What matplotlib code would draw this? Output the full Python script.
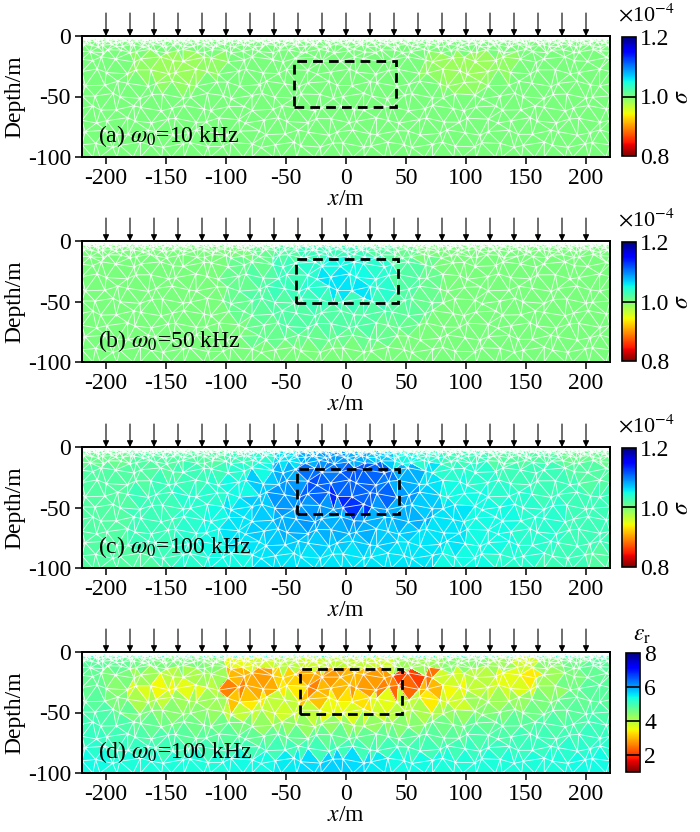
import numpy as np
import matplotlib
matplotlib.use("Agg")
import matplotlib.pyplot as plt
import matplotlib.tri as mtri
from matplotlib.patches import Rectangle

plt.rcParams["font.family"] = ["Liberation Serif", "DejaVu Serif"]
plt.rcParams["mathtext.fontset"] = "stix"
plt.rcParams["axes.unicode_minus"] = False

# ── data ────────────────────────────────────────────────────────────────────
# cell grid on which the inverted values were read (20 m columns, depth rows)
x_edges = np.arange(-220, 221, 20)
depth_edges = [0, -4, -15, -25, -35, -45, -55, -65, -75, -85, -100]

# sigma (x1e-4), panel (a) omega0 = 10 kHz
sigma_a = [
    [1.00] * 22,
    [1.00] * 22,
    [1.00, 1.00, 0.99, 0.985, 0.985, 0.99, 1.00, 1.00, 1.00, 1.00, 1.00,
     1.00, 1.00, 1.00, 0.99, 0.985, 0.985, 0.99, 1.00, 1.00, 1.00, 1.00],
    [1.00, 1.00, 0.99, 0.985, 0.985, 0.99, 1.00, 1.00, 1.00, 1.00, 1.00,
     1.00, 1.00, 1.00, 0.99, 0.985, 0.985, 0.99, 1.00, 1.00, 1.00, 1.00],
    [1.00, 1.00, 1.00, 0.99, 0.99, 1.00, 1.00, 1.00, 1.00, 1.00, 1.00,
     1.00, 1.00, 1.00, 1.00, 0.99, 0.99, 1.00, 1.00, 1.00, 1.00, 1.00],
    [1.00] * 22,
    [1.00] * 22,
    [1.00] * 22,
    [1.00] * 22,
    [1.00] * 22,
]

# panel (b) omega0 = 50 kHz
sigma_b = [
    [1.00, 1.00, 1.00, 1.00, 1.00, 1.00, 1.00, 1.00, 0.99, 0.98, 0.975,
     0.975, 0.98, 0.99, 1.00, 1.00, 1.00, 1.00, 1.00, 1.00, 1.00, 1.00],
    [1.00, 1.00, 1.00, 1.00, 1.00, 1.00, 1.00, 1.01, 1.02, 1.03, 1.03,
     1.03, 1.02, 1.01, 1.00, 1.00, 1.00, 1.00, 1.00, 1.00, 1.00, 1.00],
    [1.00, 1.00, 1.00, 1.00, 1.00, 1.00, 1.01, 1.01, 1.03, 1.04, 1.05,
     1.05, 1.04, 1.02, 1.01, 1.00, 1.00, 1.00, 1.00, 1.00, 1.00, 1.00],
    [1.00, 1.00, 1.00, 1.00, 1.00, 1.00, 1.01, 1.02, 1.03, 1.04, 1.06,
     1.05, 1.04, 1.02, 1.01, 1.00, 1.00, 1.00, 1.00, 1.00, 1.00, 1.00],
    [1.00, 1.00, 1.00, 1.00, 1.00, 1.00, 1.01, 1.02, 1.03, 1.04, 1.06,
     1.06, 1.04, 1.02, 1.01, 1.00, 1.00, 1.00, 1.00, 1.00, 1.00, 1.00],
    [1.00, 1.00, 1.00, 1.00, 1.00, 1.00, 1.01, 1.02, 1.02, 1.03, 1.03,
     1.03, 1.03, 1.02, 1.01, 1.00, 1.00, 1.00, 1.00, 1.00, 1.00, 1.00],
    [1.00, 1.00, 1.00, 1.00, 1.00, 1.00, 1.01, 1.015, 1.02, 1.02, 1.02,
     1.02, 1.02, 1.015, 1.01, 1.00, 1.00, 1.00, 1.00, 1.00, 1.00, 1.00],
    [1.00, 1.00, 1.00, 1.00, 1.00, 1.00, 1.00, 1.01, 1.02, 1.02, 1.02,
     1.02, 1.01, 1.01, 1.00, 1.00, 1.00, 1.00, 1.00, 1.00, 1.00, 1.00],
    [1.00, 1.00, 1.00, 1.00, 1.00, 1.00, 1.00, 1.01, 1.01, 1.01, 1.01,
     1.01, 1.01, 1.00, 1.00, 1.00, 1.00, 1.00, 1.00, 1.00, 1.00, 1.00],
    [1.00] * 22,
]

# panel (c) omega0 = 100 kHz
sigma_c = [
    [1.01, 1.01, 1.01, 1.01, 1.01, 1.01, 1.02, 1.03, 1.00, 0.97, 0.96,
     0.96, 0.97, 1.00, 1.02, 1.02, 1.02, 1.02, 1.01, 1.01, 1.01, 1.01],
    [1.01, 1.01, 1.02, 1.02, 1.02, 1.02, 1.03, 1.04, 1.06, 1.08, 1.09,
     1.08, 1.07, 1.05, 1.04, 1.03, 1.03, 1.02, 1.02, 1.02, 1.01, 1.01],
    [1.02, 1.02, 1.02, 1.02, 1.03, 1.03, 1.04, 1.05, 1.08, 1.105, 1.10,
     1.115, 1.11, 1.08, 1.06, 1.04, 1.04, 1.03, 1.03, 1.03, 1.02, 1.02],
    [1.02, 1.02, 1.02, 1.03, 1.03, 1.04, 1.05, 1.07, 1.09, 1.12, 1.11,
     1.11, 1.10, 1.08, 1.06, 1.05, 1.04, 1.04, 1.03, 1.03, 1.03, 1.02],
    [1.02, 1.02, 1.03, 1.03, 1.04, 1.04, 1.05, 1.07, 1.09, 1.11, 1.135,
     1.11, 1.11, 1.09, 1.07, 1.05, 1.05, 1.04, 1.04, 1.03, 1.03, 1.03],
    [1.02, 1.02, 1.03, 1.03, 1.04, 1.05, 1.06, 1.07, 1.09, 1.09, 1.09,
     1.13, 1.09, 1.08, 1.07, 1.06, 1.05, 1.05, 1.04, 1.04, 1.03, 1.03],
    [1.02, 1.02, 1.03, 1.03, 1.04, 1.05, 1.06, 1.07, 1.08, 1.09, 1.08,
     1.09, 1.08, 1.08, 1.08, 1.06, 1.05, 1.05, 1.04, 1.04, 1.03, 1.03],
    [1.02, 1.02, 1.03, 1.03, 1.04, 1.05, 1.06, 1.07, 1.08, 1.08, 1.08,
     1.08, 1.07, 1.07, 1.06, 1.06, 1.05, 1.05, 1.04, 1.04, 1.03, 1.03],
    [1.02, 1.02, 1.03, 1.03, 1.04, 1.05, 1.06, 1.06, 1.07, 1.07, 1.07,
     1.07, 1.07, 1.06, 1.06, 1.06, 1.05, 1.05, 1.04, 1.04, 1.03, 1.03],
    [1.02, 1.02, 1.02, 1.03, 1.04, 1.05, 1.05, 1.06, 1.06, 1.06, 1.06,
     1.06, 1.06, 1.06, 1.06, 1.05, 1.05, 1.04, 1.04, 1.03, 1.03, 1.02],
]

# relative permittivity, panel (d) omega0 = 100 kHz
eps_d = [
    [5.1] * 22,
    [4.8, 4.7, 4.6, 4.5, 4.5, 4.4, 3.6, 3.8, 4.0, 3.8, 3.9,
     3.9, 3.8, 4.2, 4.2, 4.4, 4.4, 4.2, 3.8, 4.4, 4.6, 4.8],
    [4.7, 4.5, 4.2, 4.0, 4.1, 4.2, 3.0, 2.8, 3.2, 2.9, 2.8,
     3.0, 2.8, 2.1, 2.5, 3.8, 4.0, 3.6, 3.4, 4.2, 4.5, 4.7],
    [4.7, 4.4, 3.7, 3.5, 3.6, 4.0, 2.6, 2.9, 3.4, 2.6, 3.0,
     2.8, 2.6, 2.4, 3.0, 3.5, 3.9, 3.8, 3.7, 4.3, 4.6, 4.8],
    [4.8, 4.5, 4.1, 3.9, 4.2, 4.2, 3.1, 3.4, 3.9, 3.1, 3.5,
     3.3, 3.6, 3.9, 3.4, 3.8, 4.2, 4.2, 4.3, 4.5, 4.7, 4.8],
    [4.9, 4.7, 4.5, 4.4, 4.4, 4.3, 3.9, 3.9, 3.8, 3.9, 3.6,
     3.7, 3.8, 4.0, 4.1, 4.3, 4.4, 4.5, 4.6, 4.7, 4.8, 4.9],
    [5.0, 4.9, 4.7, 4.6, 4.6, 4.6, 4.5, 4.3, 4.3, 4.3, 4.3,
     4.3, 4.3, 4.4, 4.5, 4.6, 4.7, 4.8, 4.8, 4.9, 4.9, 5.0],
    [5.1, 5.0, 4.9, 4.9, 4.8, 4.8, 4.8, 4.7, 4.7, 4.7, 4.7,
     4.7, 4.7, 4.8, 4.8, 4.8, 4.9, 4.9, 5.0, 5.0, 5.0, 5.1],
    [5.2, 5.1, 5.1, 5.0, 5.0, 5.0, 5.0, 5.0, 5.0, 5.0, 5.0,
     5.0, 5.0, 5.0, 5.0, 5.0, 5.1, 5.1, 5.1, 5.1, 5.2, 5.2],
    [5.4, 5.3, 5.3, 5.3, 5.3, 5.3, 5.4, 5.4, 5.5, 5.6, 5.7,
     5.6, 5.5, 5.4, 5.4, 5.3, 5.3, 5.3, 5.3, 5.3, 5.4, 5.4],
]

panel_labels = [r"(a) $\omega_0$=10 kHz", r"(b) $\omega_0$=50 kHz",
                r"(c) $\omega_0$=100 kHz", r"(d) $\omega_0$=100 kHz"]
source_x = np.arange(-200, 201, 20)
# target outline (x0, x1, top, bottom) as drawn in each panel
boxes = [(-43, 42, -20.5, -58.5), (-42, 43, -14.5, -51),
         (-41, 44, -18, -55), (-38, 47, -14, -51)]

FS = 17


def build_mesh():
    """Layered triangle mesh, very fine at the surface and ~10 m below."""
    levels, hs = [0.0], []
    h = 0.6
    while h < 9.5:
        hs.append(h)
        levels.append(levels[-1] - h)
        h *= 1.5
    n_deep = int(round((100 + levels[-1]) / 9.5))
    deep = np.linspace(levels[-1], -100, n_deep + 1)[1:]
    for d in deep:
        hs.append(levels[-1] - d)
        levels.append(d)
    hs.append(hs[-1])

    xs, ys, rows = [], [], []
    for j, (yl, hl) in enumerate(zip(levels, hs)):
        n = max(2, int(round(440 / (1.15 * hl))))
        base = np.linspace(-220, 220, n + 1)
        ds = 440 / n
        if j % 2:
            base = np.concatenate([[-220], base[:-1] + ds / 2, [220]])
        row = []
        for i, xv in enumerate(base):
            yv = yl
            if 0 < i < len(base) - 1:
                xv = xv + 0.28 * ds * np.sin(2.399 * i + 1.618 * j)
                if 0 < j < len(levels) - 1:
                    yv = yl + 0.22 * hl * np.sin(1.733 * i + 2.236 * j + 1.0)
            row.append(len(xs))
            xs.append(xv)
            ys.append(yv)
        rows.append(row)

    xs, ys = np.array(xs), np.array(ys)
    tris = []
    for a, b in zip(rows[:-1], rows[1:]):
        i = k = 0
        while i < len(a) - 1 or k < len(b) - 1:
            if i == len(a) - 1:
                step_a = False
            elif k == len(b) - 1:
                step_a = True
            else:
                da = np.hypot(xs[a[i + 1]] - xs[b[k]], ys[a[i + 1]] - ys[b[k]])
                db = np.hypot(xs[a[i]] - xs[b[k + 1]], ys[a[i]] - ys[b[k + 1]])
                step_a = da < db
            if step_a:
                tris.append((a[i], a[i + 1], b[k]))
                i += 1
            else:
                tris.append((a[i], b[k + 1], b[k]))
                k += 1
    return mtri.Triangulation(xs, ys, np.array(tris))


def cell_values(tri, table):
    cx = tri.x[tri.triangles].mean(axis=1)
    cy = tri.y[tri.triangles].mean(axis=1)
    col = np.clip(np.searchsorted(x_edges, cx, side="right") - 1, 0, len(x_edges) - 2)
    depth = -np.asarray(depth_edges, dtype=float)
    row = np.clip(np.searchsorted(depth, -cy, side="right") - 1, 0, len(depth_edges) - 2)
    return np.asarray(table)[row, col]


tri = build_mesh()
fig = plt.figure(figsize=(7.0, 8.32), dpi=100)
W, H = 700.0, 832.0
tops = [36, 241, 447, 652]
tables = [sigma_a, sigma_b, sigma_c, eps_d]

for p, (top, table) in enumerate(zip(tops, tables)):
    ax = fig.add_axes([82 / W, 1 - (top + 121) / H, 528 / W, 121 / H])
    is_eps = p == 3
    vmin, vmax = (1, 8) if is_eps else (0.8, 1.2)
    tpc = ax.tripcolor(tri, facecolors=cell_values(tri, table), cmap="jet_r",
                       vmin=vmin, vmax=vmax, edgecolors="none")
    ax.triplot(tri, color="white", lw=0.6, alpha=0.9)
    ax.plot(tri.x, tri.y, "o", ms=1.4, mew=0, color="white")

    x0, x1, y0, y1 = boxes[p]
    ax.add_patch(Rectangle((x0, y1), x1 - x0, y0 - y1, fill=False, ec="black",
                           lw=2.0, ls=(0, (3.5, 2.2)), zorder=5))
    for sx in source_x:
        ax.annotate("", xy=(sx, 0), xytext=(sx, 19), annotation_clip=False,
                    arrowprops=dict(arrowstyle="-|>", color="black", lw=0.8,
                                    mutation_scale=9, shrinkA=0, shrinkB=0))
    ax.text(-207, -83, panel_labels[p], fontsize=FS, ha="left", va="center")

    ax.set_xlim(-220, 220)
    ax.set_ylim(-100, 0)
    ax.set_xticks(np.arange(-200, 201, 50))
    ax.set_yticks([-100, -50, 0])
    ax.tick_params(direction="out", length=5, width=1.1, labelsize=FS, pad=3)
    for sp in ax.spines.values():
        sp.set_linewidth(1.4)
    ax.set_xlabel(r"$x$/m", fontsize=FS, labelpad=0)
    ax.set_ylabel("Depth/m", fontsize=FS, labelpad=2)

    cx0 = 626 if is_eps else 622
    cax = fig.add_axes([cx0 / W, 1 - (top + 120) / H, 14 / W, 119 / H])
    ticks = [2, 4, 6, 8] if is_eps else [0.8, 1.0, 1.2]
    cb = fig.colorbar(tpc, cax=cax, ticks=ticks)
    cb.outline.set_linewidth(1.2)
    cax.tick_params(length=0, labelsize=FS, pad=3)
    for lv in ([2, 4, 6] if is_eps else [1.0]):
        cax.axhline(lv, color="black", lw=1.2)
    if is_eps:
        fig.text(633 / W, 1 - (top - 17) / H, r"$\varepsilon_\mathrm{r}$",
                 fontsize=FS, ha="left", va="center")
    else:
        cb.ax.set_yticklabels(["0.8", "1.0", "1.2"])
        cb.set_label(r"$\sigma$", fontsize=FS, rotation=90, labelpad=2)
        fig.text(618 / W, 1 - (top - 21) / H, r"$\times$10$^{-4}$",
                 fontsize=FS - 1, ha="left", va="center")

fig.savefig("out.png", dpi=100)
